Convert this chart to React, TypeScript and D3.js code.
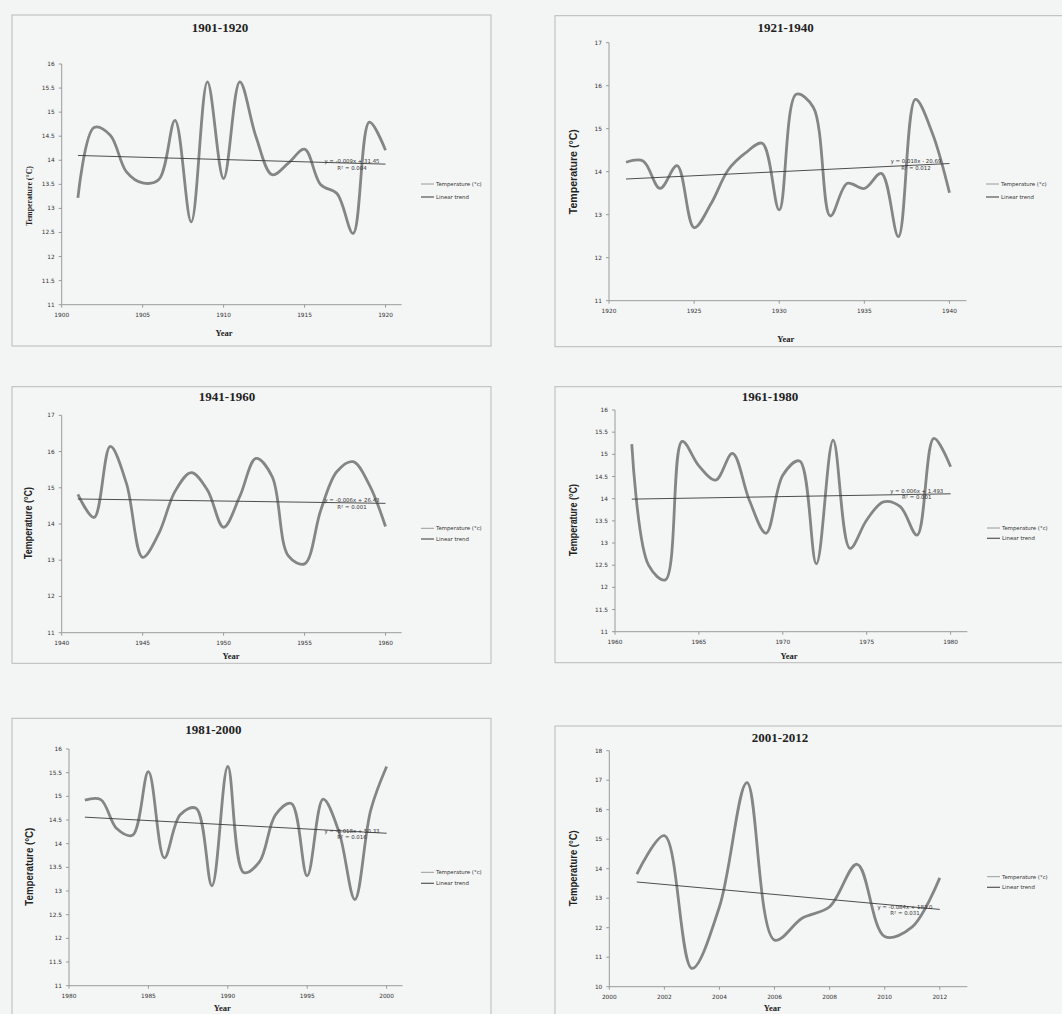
import React from 'react';
import * as d3 from 'd3';

// temperature (°C) per year
const temps1901 = [13.22, 14.68, 14.52, 13.76, 13.53, 13.6, 14.83, 12.72, 15.63, 13.62, 15.63, 14.49, 13.7, 13.94, 14.23, 13.49, 13.31, 12.48, 14.79, 14.21];
const temps1921 = [14.22, 14.25, 13.61, 14.14, 12.7, 13.26, 14.04, 14.43, 14.66, 13.11, 15.8, 15.5, 12.97, 13.73, 13.61, 13.96, 12.49, 15.68, 14.89, 13.51];
const temps1941 = [14.82, 14.18, 16.14, 15.12, 13.08, 13.74, 14.9, 15.42, 14.94, 13.91, 14.76, 15.81, 15.31, 13.12, 12.9, 14.38, 15.45, 15.72, 15.08, 13.93];
const temps1961 = [15.23, 12.5, 12.17, 15.29, 14.74, 14.42, 15.02, 13.97, 13.22, 14.53, 14.85, 12.53, 15.32, 12.88, 13.52, 13.93, 13.82, 13.18, 15.36, 14.72];
const temps1981 = [14.92, 14.93, 14.32, 14.18, 15.52, 13.7, 14.61, 14.75, 13.11, 15.63, 13.39, 13.62, 14.61, 14.85, 13.32, 14.94, 14.25, 12.82, 14.71, 15.63];
const temps2001 = [13.82, 15.12, 10.62, 12.71, 16.92, 11.58, 12.32, 12.71, 14.15, 11.7, 12.03, 13.69];

// linear trend values at first and last year
const trend1901 = [14.1, 13.92];
const trend1921 = [13.83, 14.19];
const trend1941 = [14.69, 14.57];
const trend1961 = [13.99, 14.11];
const trend1981 = [14.56, 14.22];
const trend2001 = [13.55, 12.62];

const titles = ['1901-1920', '1921-1940', '1941-1960', '1961-1980', '1981-2000', '2001-2012'];
const equations = [
  ['y = -0.009x + 31.45', 'R² = 0.004'],
  ['y = 0.018x - 20.69', 'R² = 0.012'],
  ['y = -0.006x + 26.43', 'R² = 0.001'],
  ['y = 0.006x + 1.493', 'R² = 0.001'],
  ['y = -0.018x + 50.33', 'R² = 0.016'],
  ['y = -0.084x + 183.0', 'R² = 0.031'],
];
const legendLabels = ['Temperature (°c)', 'Linear trend'];

const panels = [
  { values: temps1901, trend: trend1901, start: 1901, xDomain: [1900, 1921], xStep: 5, yDomain: [11, 16], yStep: 0.5,
    frame: [12, 15, 479, 331], x0: 61.7, x1: 401.7, yTop: 64, yBottom: 304.7,
    title: [220, 27], yLabel: [29, 196], yLen: 60, serifY: true, year: [224, 333], legend: [421, 184, 197], eq: [352, 161, 168] },
  { values: temps1921, trend: trend1921, start: 1921, xDomain: [1920, 1941], xStep: 5, yDomain: [11, 17], yStep: 1,
    frame: [555, 15.7, 520, 331], x0: 609, x1: 966.5, yTop: 42.7, yBottom: 300.7,
    title: [785.7, 27.7], yLabel: [572.7, 171.7], yLen: 85, serifY: false, year: [785.7, 339], legend: [986, 184, 197], eq: [916, 161, 168] },
  { values: temps1941, trend: trend1941, start: 1941, xDomain: [1940, 1961], xStep: 5, yDomain: [11, 17], yStep: 1,
    frame: [12, 386.7, 479, 276.6], x0: 61.7, x1: 401.7, yTop: 415.3, yBottom: 632.7,
    title: [227, 396.7], yLabel: [27.7, 523], yLen: 72, serifY: false, year: [231, 655.7], legend: [421, 528.3, 539], eq: [352, 500, 506.7] },
  { values: temps1961, trend: trend1961, start: 1961, xDomain: [1960, 1981], xStep: 5, yDomain: [11, 16], yStep: 0.5,
    frame: [555, 386.7, 520, 276], x0: 615, x1: 967.4, yTop: 410, yBottom: 631.7,
    title: [770, 396.7], yLabel: [573.3, 520], yLen: 72, serifY: false, year: [789, 655.7], legend: [987, 528, 538.3], eq: [916.7, 490.7, 497.3] },
  { values: temps1981, trend: trend1981, start: 1981, xDomain: [1980, 2001], xStep: 5, yDomain: [11, 16], yStep: 0.5,
    frame: [12, 718.3, 479, 320], x0: 69, x1: 402.5, yTop: 749, yBottom: 985.7,
    title: [213.3, 729.3], yLabel: [29.3, 866.7], yLen: 78, serifY: false, year: [222.3, 1007.5], legend: [421, 872.3, 883.3], eq: [352, 830.7, 837.3] },
  { values: temps2001, trend: trend2001, start: 2001, xDomain: [2000, 2013], xStep: 2, yDomain: [10, 18], yStep: 1,
    frame: [555, 726, 520, 320], x0: 609.3, x1: 967.3, yTop: 750.7, yBottom: 986.7,
    title: [780, 737], yLabel: [573.3, 868.3], yLen: 76, serifY: false, year: [772.3, 1007.5], legend: [987, 876.7, 887.3], eq: [905, 906.7, 913.3] },
];

const serif = '"Liberation Serif", "Times New Roman", serif';
const sans = '"DejaVu Sans", Verdana, sans-serif';
const axisColor = '#9a9a9a';

const Panel = ({ cfg, idx }) => {
  const x = d3.scaleLinear().domain(cfg.xDomain).range([cfg.x0, cfg.x1]);
  const y = d3.scaleLinear().domain(cfg.yDomain).range([cfg.yBottom, cfg.yTop]);
  const pts = cfg.values.map((v, i) => [cfg.start + i, v]);
  // centripetal catmull-rom keeps the overshoot small, close to the spreadsheet's smoothing
  const smooth = d3
    .line()
    .x((d) => x(d[0]))
    .y((d) => y(d[1]))
    .curve(d3.curveCatmullRom.alpha(0.5));
  const straight = d3.line().x((d) => x(d[0])).y((d) => y(d[1]));
  const lastYear = cfg.start + cfg.values.length - 1;
  const trendPts = [
    [cfg.start, cfg.trend[0]],
    [lastYear, cfg.trend[1]],
  ];
  const yTicks = d3.range(cfg.yDomain[0], cfg.yDomain[1] + 1e-9, cfg.yStep);
  const xTicks = d3.range(cfg.xDomain[0], cfg.xDomain[1], cfg.xStep);
  const [fx, fy, fw, fh] = cfg.frame;
  const [lx, ly1, ly2] = cfg.legend;
  const [ex, ey1, ey2] = cfg.eq;

  return (
    <g>
      <rect x={fx} y={fy} width={fw} height={fh} fill='#f4f5f5' stroke='#b9b9b9' strokeWidth={1} />
      <text x={cfg.title[0]} y={cfg.title[1]} textAnchor='middle' dominantBaseline='central'
        fontFamily={serif} fontWeight='bold' fontSize={13} fill='#222'>{titles[idx]}</text>

      {/* axes */}
      <line x1={cfg.x0} x2={cfg.x0} y1={cfg.yTop} y2={cfg.yBottom} stroke={axisColor} />
      <line x1={cfg.x0} x2={cfg.x1} y1={cfg.yBottom} y2={cfg.yBottom} stroke={axisColor} />
      {yTicks.map((t) => (
        <g key={'y' + t}>
          <line x1={cfg.x0 - 3} x2={cfg.x0} y1={y(t)} y2={y(t)} stroke={axisColor} />
          <text x={cfg.x0 - 7} y={y(t)} textAnchor='end' dominantBaseline='central'
            fontFamily={sans} fontSize={5.8} fill='#333'>{String(+t.toFixed(1))}</text>
        </g>
      ))}
      {xTicks.map((t) => (
        <g key={'x' + t}>
          <line x1={x(t)} x2={x(t)} y1={cfg.yBottom} y2={cfg.yBottom + 3} stroke={axisColor} />
          <text x={x(t)} y={cfg.yBottom + 10} textAnchor='middle' dominantBaseline='central'
            fontFamily={sans} fontSize={5.8} fill='#333'>{t}</text>
        </g>
      ))}

      {/* axis titles */}
      <text transform={`translate(${cfg.yLabel[0]},${cfg.yLabel[1]}) rotate(-90)`} textAnchor='middle'
        dominantBaseline='central' fontFamily={cfg.serifY ? serif : '"Liberation Sans", Arial, sans-serif'}
        fontWeight='bold' fontSize={cfg.serifY ? 8.5 : 11.5} fill='#222'
        textLength={cfg.yLen} lengthAdjust='spacingAndGlyphs'>Temperature (°C)</text>
      <text x={cfg.year[0]} y={cfg.year[1]} textAnchor='middle' dominantBaseline='central'
        fontFamily={serif} fontWeight='bold' fontSize={8.5} fill='#222'>Year</text>

      {/* series */}
      <path d={smooth(pts)} fill='none' stroke='#858585' strokeWidth={2.8} strokeLinejoin='round' />
      <path d={straight(trendPts)} fill='none' stroke='#3a3a3a' strokeWidth={0.9} />

      <text x={ex} y={ey1} textAnchor='middle' dominantBaseline='central' fontFamily={sans} fontSize={5.4} fill='#333'>{equations[idx][0]}</text>
      <text x={ex} y={ey2} textAnchor='middle' dominantBaseline='central' fontFamily={sans} fontSize={5.4} fill='#333'>{equations[idx][1]}</text>

      {/* legend */}
      <line x1={lx} x2={lx + 13} y1={ly1} y2={ly1} stroke='#9a9a9a' strokeWidth={1} />
      <text x={lx + 15} y={ly1} dominantBaseline='central' fontFamily={sans} fontSize={5.4} fill='#333'>{legendLabels[0]}</text>
      <line x1={lx} x2={lx + 13} y1={ly2} y2={ly2} stroke='#555' strokeWidth={1.2} />
      <text x={lx + 15} y={ly2} dominantBaseline='central' fontFamily={sans} fontSize={5.4} fill='#333'>{legendLabels[1]}</text>
    </g>
  );
};

const App = () => (
  <div style={{ position: 'absolute', left: 0, top: 0 }}>
    <svg width={1062} height={1014} style={{ display: 'block', background: '#f3f4f4' }}>
      {panels.map((cfg, i) => (
        <Panel key={i} cfg={cfg} idx={i} />
      ))}
    </svg>
  </div>
);

export default App;
